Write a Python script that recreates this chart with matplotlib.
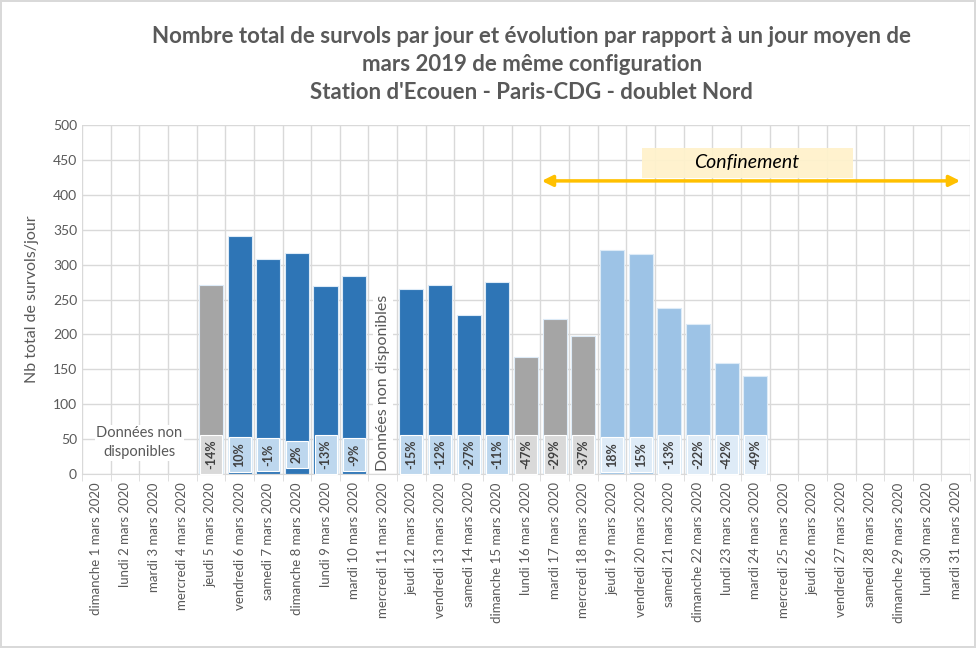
import matplotlib
matplotlib.use("Agg")
import matplotlib.pyplot as plt
from matplotlib.patches import Rectangle
import numpy as np

plt.rcParams['font.family'] = ['Lato', 'DejaVu Sans']

days = ['dimanche 1 mars 2020', 'lundi 2 mars 2020', 'mardi 3 mars 2020',
        'mercredi 4 mars 2020', 'jeudi 5 mars 2020', 'vendredi 6 mars 2020',
        'samedi 7 mars 2020', 'dimanche 8 mars 2020', 'lundi 9 mars 2020',
        'mardi 10 mars 2020', 'mercredi 11 mars 2020', 'jeudi 12 mars 2020',
        'vendredi 13 mars 2020', 'samedi 14 mars 2020', 'dimanche 15 mars 2020',
        'lundi 16 mars 2020', 'mardi 17 mars 2020', 'mercredi 18 mars 2020',
        'jeudi 19 mars 2020', 'vendredi 20 mars 2020', 'samedi 21 mars 2020',
        'dimanche 22 mars 2020', 'lundi 23 mars 2020', 'mardi 24 mars 2020',
        'mercredi 25 mars 2020', 'jeudi 26 mars 2020', 'vendredi 27 mars 2020',
        'samedi 28 mars 2020', 'dimanche 29 mars 2020', 'lundi 30 mars 2020',
        'mardi 31 mars 2020']

# nombre de survols (None = pas de donnees)
survols = [None, None, None, None, 271, 341, 308, 316, 269, 284, None,
           265, 271, 228, 275, 168, 222, 198, 321, 315, 238, 215, 159, 140,
           None, None, None, None, None, None, None]
evolution = [None, None, None, None, '-14%', '10%', '-1%', '2%', '-13%', '-9%', None,
             '-15%', '-12%', '-27%', '-11%', '-47%', '-29%', '-37%', '18%', '15%',
             '-13%', '-22%', '-42%', '-49%',
             None, None, None, None, None, None, None]
# g = gris (config differente), b = bleu, c = bleu clair (confinement)
groupe = [None, None, None, None, 'g', 'b', 'b', 'b', 'b', 'b', None,
          'b', 'b', 'b', 'b', 'g', 'g', 'g', 'c', 'c', 'c', 'c', 'c', 'c',
          None, None, None, None, None, None, None]

bar_col = {'g': '#a5a5a5', 'b': '#2e75b6', 'c': '#9dc3e6'}
box_col = {'g': '#d9d9d9', 'b': '#bdd7ee', 'c': '#deebf7'}

fig = plt.figure(figsize=(9.76, 6.48), dpi=100)
fig.patch.set_edgecolor('#d9d9d9')
fig.patch.set_linewidth(1.5)
ax = fig.add_axes([0.084, 0.2685, 0.91, 0.5385])

x = np.arange(len(days))
for i, (v, g, e) in enumerate(zip(survols, groupe, evolution)):
    if v is None:
        continue
    ax.bar(i, v, width=0.84, color=bar_col[g], edgecolor='#ddebf7',
           linewidth=0.8, zorder=2)
    ax.text(i, 28, e, rotation=90, ha='center', va='center', fontsize=9,
            fontweight='bold', color='#404040', zorder=3,
            bbox=dict(boxstyle='square,pad=0.4', fc=box_col[g], ec='white', lw=0.8))

ax.set_xlim(-0.5, len(days) - 0.5)
ax.set_ylim(0, 500)
ax.set_yticks(range(0, 501, 50))
ax.set_xticks(x)
ax.set_xticklabels(days, rotation=90, fontsize=9.5, color='#595959')
ax.tick_params(axis='y', labelsize=10, colors='#595959', length=0)
ax.tick_params(axis='x', length=0, pad=6)
ax.set_xticks(np.arange(-0.5, len(days), 1), minor=True)
ax.tick_params(axis='x', which='minor', length=5, color='#d9d9d9')
ax.grid(True, which='major', axis='y', color='#d9d9d9', lw=1, zorder=0)
ax.grid(True, which='minor', axis='x', color='#d9d9d9', lw=1, zorder=0)
for s in ['top', 'right', 'left']:
    ax.spines[s].set_visible(False)
ax.spines['bottom'].set_color('#d9d9d9')
ax.set_ylabel('Nb total de survols/jour', fontsize=11.5, color='#595959', labelpad=10)

# donnees manquantes
ax.text(1.5, 45, 'Données non\ndisponibles', ha='center', va='center',
        fontsize=10.5, color='#595959', linespacing=1.45, zorder=3,
        bbox=dict(fc='white', ec='none', pad=1))
ax.text(10, 5, 'Données non disponibles', rotation=90, ha='center', va='bottom',
        fontsize=11.5, color='#595959', zorder=3,
        bbox=dict(fc='white', ec='none', pad=2))

# periode de confinement
ax.add_patch(Rectangle((19.05, 424), 7.35, 43, fc='#fff2cc', ec='none',
                       alpha=0.95, zorder=3))
ax.annotate('', xy=(30.25, 420), xytext=(15.45, 420),
            arrowprops=dict(arrowstyle='<|-|>', color='#ffc000', lw=2.5,
                            mutation_scale=16), zorder=4)
ax.text(22.7, 446, 'Confinement', ha='center', va='center', fontsize=14,
        style='italic', color='black', zorder=4)

fig.text(0.545, 0.9, "Nombre total de survols par jour et évolution par rapport à un jour moyen de\n"
         "mars 2019 de même configuration\nStation d'Ecouen - Paris-CDG - doublet Nord",
         ha='center', va='center', fontsize=16, fontweight='bold', color='#595959',
         linespacing=1.42)

fig.savefig('out.png', dpi=100)
